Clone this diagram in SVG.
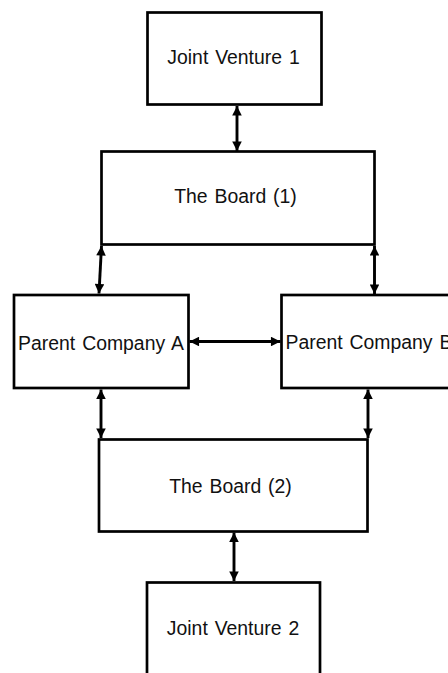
<svg xmlns="http://www.w3.org/2000/svg" width="448" height="673" viewBox="0 0 448 673">
  <defs>
    <marker id="head" viewBox="0 0 10 10" refX="10" refY="5" markerWidth="3.6" markerHeight="3.3" markerUnits="strokeWidth" orient="auto-start-reverse">
      <path d="M0,0 L10,5 L0,10 Z" fill="#000"/>
    </marker>
    <style>
      .box { fill: #fff; stroke: #000; stroke-width: 2.7; }
      .lbl { font-family: "Liberation Sans", Arial, sans-serif; font-size: 19.4px; fill: #111; text-anchor: middle; word-spacing: 1.5px; }
      .link { stroke: #000; stroke-width: 2.9; fill: none; marker-start: url(#head); marker-end: url(#head); }
    </style>
  </defs>

  <rect width="448" height="673" fill="#fff"/>

  <g id="connectors">
    <line class="link" x1="237" y1="106" x2="237" y2="151"/>
    <line class="link" x1="101.5" y1="246" x2="99" y2="293.5"/>
    <line class="link" x1="374.5" y1="246" x2="374.5" y2="294"/>
    <line class="link" x1="189.5" y1="341.5" x2="280.5" y2="341.5"/>
    <line class="link" x1="101" y1="389.5" x2="101" y2="438"/>
    <line class="link" x1="368" y1="389.5" x2="368" y2="438"/>
    <line class="link" x1="234" y1="532.5" x2="234" y2="581"/>
  </g>

  <g id="jv1">
    <rect class="box" x="147.5" y="12.5" width="174" height="92"/>
    <text class="lbl" x="233.5" y="64">Joint Venture 1</text>
  </g>

  <g id="board1">
    <rect class="box" x="101.5" y="151.5" width="273" height="93"/>
    <text class="lbl" x="235.5" y="203">The Board (1)</text>
  </g>

  <g id="parent-a">
    <rect class="box" x="14" y="295" width="174.5" height="93"/>
    <text class="lbl" x="101" y="349.5">Parent Company A</text>
  </g>

  <g id="parent-b">
    <rect class="box" x="281.5" y="295" width="180" height="93"/>
    <text class="lbl" x="285.5" y="349" style="text-anchor:start">Parent Company B</text>
  </g>

  <g id="board2">
    <rect class="box" x="99" y="439.5" width="268.5" height="92"/>
    <text class="lbl" x="230.5" y="492.5">The Board (2)</text>
  </g>

  <g id="jv2">
    <rect class="box" x="147" y="582.5" width="173" height="100"/>
    <text class="lbl" x="233" y="635">Joint Venture 2</text>
  </g>
</svg>
